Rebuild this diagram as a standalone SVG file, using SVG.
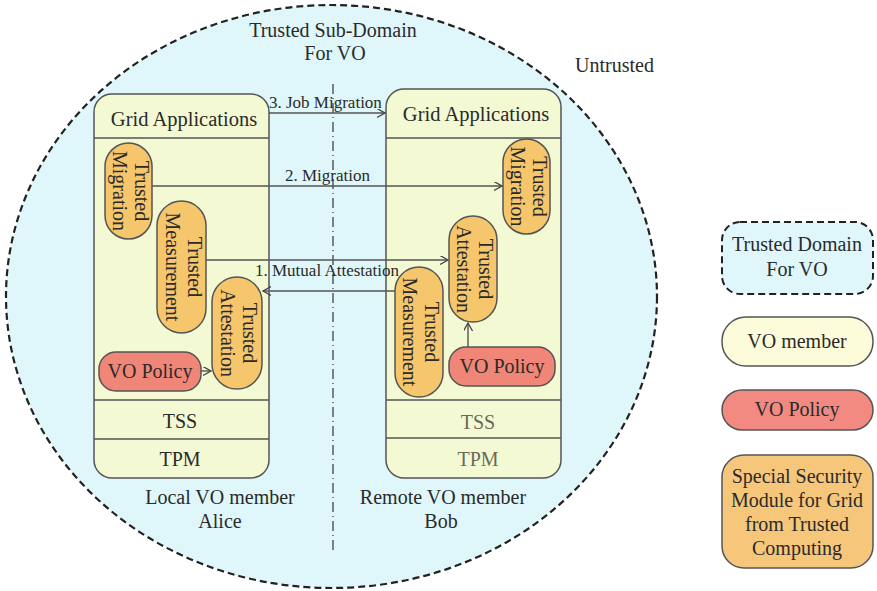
<svg xmlns="http://www.w3.org/2000/svg" width="877" height="591" viewBox="0 0 877 591">
  <defs>
    <style>
      text { font-family: "Liberation Serif", "Times New Roman", serif; font-size: 20px; fill: #2a2a2a; }
      .mid { text-anchor: middle; }
      .head { font-size: 20.5px; }
      .small { font-size: 17px; }
      .member { fill: #f3f9d3; stroke: #555; stroke-width: 1.5; }
      .sep { stroke: #555; stroke-width: 1.5; fill: none; }
      .module { fill: #f5c66c; stroke: #555; stroke-width: 1.5; }
      .policy { fill: #f08677; stroke: #555; stroke-width: 1.5; }
      .link { stroke: #555; stroke-width: 1.4; fill: none; }
      .faint { fill: #6a6a5a; }
    </style>
    <marker id="arrow" markerUnits="userSpaceOnUse" markerWidth="10" markerHeight="10" refX="8" refY="4.5" orient="auto">
      <path d="M0,0 L8,4.5 L0,9" fill="none" stroke="#444" stroke-width="1.3"/>
    </marker>
  </defs>

  <rect width="877" height="591" fill="#ffffff"/>

  <!-- trusted sub-domain -->
  <g id="domain">
    <ellipse cx="331.5" cy="296.5" rx="325.5" ry="291.5" fill="#dff7fa" stroke="#222" stroke-width="2.2" stroke-dasharray="7 4"/>
    <text class="mid" x="333" y="37">Trusted Sub-Domain</text>
    <text class="mid" x="335" y="60">For VO</text>
    <line x1="333" y1="84" x2="333" y2="553" stroke="#444" stroke-width="1.3" stroke-dasharray="10 4 1 4"/>
  </g>
  <text x="575" y="72">Untrusted</text>

  <!-- Alice -->
  <g id="alice">
    <rect class="member" x="94" y="94" width="175" height="384" rx="18"/>
    <line class="sep" x1="94" y1="138" x2="269" y2="138"/>
    <line class="sep" x1="94" y1="400" x2="269" y2="400"/>
    <line class="sep" x1="94" y1="439" x2="269" y2="439"/>
    <text class="mid head" x="184" y="126">Grid Applications</text>
    <text class="mid" x="180" y="428">TSS</text>
    <text class="mid" x="180" y="466">TPM</text>
    <text class="mid" x="220" y="504">Local VO member</text>
    <text class="mid" x="220" y="528">Alice</text>
  </g>

  <g id="alice-migration">
    <rect class="module" x="105" y="143" width="47" height="96" rx="23.5"/>
    <text class="mid" transform="translate(128.5,191) rotate(90)"><tspan x="0" y="-6">Trusted</tspan><tspan x="0" y="16">Migration</tspan></text>
  </g>
  <g id="alice-measurement">
    <rect class="module" x="157" y="201" width="49" height="132" rx="24.5"/>
    <text class="mid" transform="translate(181.5,267) rotate(90)"><tspan x="0" y="-6">Trusted</tspan><tspan x="0" y="16">Measurement</tspan></text>
  </g>
  <g id="alice-attestation">
    <rect class="module" x="212" y="277" width="50" height="112" rx="25"/>
    <text class="mid" transform="translate(237,333) rotate(90)"><tspan x="0" y="-6">Trusted</tspan><tspan x="0" y="16">Attestation</tspan></text>
  </g>
  <g id="alice-policy">
    <rect class="policy" x="99" y="352" width="102" height="39" rx="17"/>
    <text class="mid" x="150" y="378">VO Policy</text>
  </g>

  <!-- Bob -->
  <g id="bob">
    <rect class="member" x="386" y="89" width="175" height="389" rx="18"/>
    <line class="sep" x1="386" y1="138" x2="561" y2="138"/>
    <line class="sep" x1="386" y1="400" x2="561" y2="400"/>
    <line class="sep" x1="386" y1="438" x2="561" y2="438"/>
    <text class="mid head" x="476" y="121">Grid Applications</text>
    <text class="mid faint" x="478" y="429">TSS</text>
    <text class="mid faint" x="478" y="466">TPM</text>
    <text class="mid" x="443" y="504">Remote VO member</text>
    <text class="mid" x="441" y="528">Bob</text>
  </g>

  <g id="bob-migration">
    <rect class="module" x="503" y="139" width="47" height="95" rx="23.5"/>
    <text class="mid" transform="translate(526.5,186.5) rotate(90)"><tspan x="0" y="-6">Trusted</tspan><tspan x="0" y="16">Migration</tspan></text>
  </g>
  <g id="bob-attestation">
    <rect class="module" x="449" y="216" width="48" height="106" rx="24"/>
    <text class="mid" transform="translate(473,269) rotate(90)"><tspan x="0" y="-6">Trusted</tspan><tspan x="0" y="16">Attestation</tspan></text>
  </g>
  <g id="bob-measurement">
    <rect class="module" x="395" y="267" width="48" height="130" rx="24"/>
    <text class="mid" transform="translate(419,332) rotate(90)"><tspan x="0" y="-6">Trusted</tspan><tspan x="0" y="16">Measurement</tspan></text>
  </g>
  <g id="bob-policy">
    <rect class="policy" x="449" y="347" width="106" height="39" rx="17"/>
    <text class="mid" x="502" y="373">VO Policy</text>
  </g>

  <!-- connectors -->
  <g id="connectors">
    <line class="link" x1="269" y1="113" x2="385" y2="113" stroke-width="2" marker-end="url(#arrow)"/>
    <text class="small" x="269" y="108">3. Job Migration</text>

    <line class="link" x1="152" y1="186" x2="502" y2="186" stroke="#222" stroke-width="1.6" marker-end="url(#arrow)"/>
    <text class="small" x="285" y="181">2. Migration</text>

    <line class="link" x1="206" y1="260" x2="448" y2="260" marker-end="url(#arrow)"/>
    <line class="link" x1="395" y1="291" x2="263" y2="291" marker-end="url(#arrow)"/>
    <text class="small" x="255" y="276">1. Mutual Attestation</text>

    <line class="link" x1="201" y1="371" x2="211" y2="371" marker-end="url(#arrow)"/>
    <line class="link" x1="468" y1="347" x2="468" y2="323" marker-end="url(#arrow)"/>
  </g>

  <!-- legend -->
  <g id="legend-domain">
    <rect x="722" y="222" width="151" height="72" rx="18" fill="#dff7fa" stroke="#222" stroke-width="2" stroke-dasharray="7 4"/>
    <text class="mid" x="797" y="251">Trusted Domain</text>
    <text class="mid" x="797" y="276">For VO</text>
  </g>
  <g id="legend-member">
    <rect x="722" y="317" width="151" height="49" rx="24" fill="#fcfbda" stroke="#555" stroke-width="1.5"/>
    <text class="mid" x="797" y="348">VO member</text>
  </g>
  <g id="legend-policy">
    <rect x="722" y="390" width="151" height="40" rx="20" fill="#f28a82" stroke="#555" stroke-width="1.5"/>
    <text class="mid" x="797" y="416">VO Policy</text>
  </g>
  <g id="legend-module">
    <rect x="722" y="455" width="151" height="113" rx="22" fill="#f6c77a" stroke="#555" stroke-width="1.5"/>
    <text class="mid" x="797" y="483">Special Security</text>
    <text class="mid" x="797" y="507">Module for Grid</text>
    <text class="mid" x="797" y="531">from Trusted</text>
    <text class="mid" x="797" y="555">Computing</text>
  </g>
</svg>
